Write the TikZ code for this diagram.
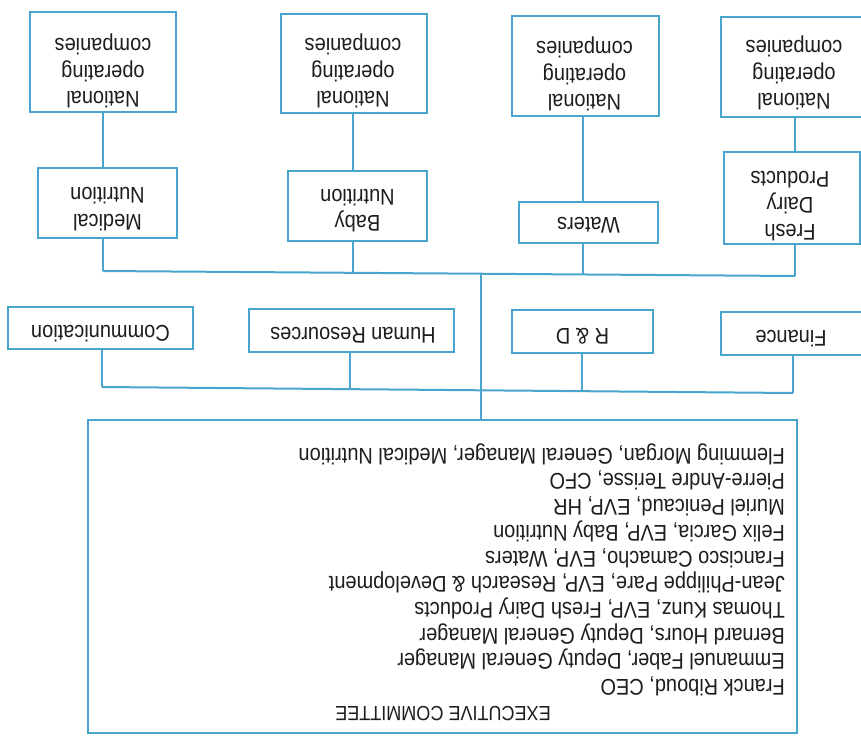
\documentclass[tikz,border=0pt]{standalone}
\usepackage{fontspec}
\setmainfont{Liberation Sans}[FakeStretch=0.88]
\usepackage{graphicx}
\definecolor{lineblue}{RGB}{72,166,206}
\definecolor{ink}{RGB}{30,30,30}
\newcommand{\flipc}[1]{\rotatebox{180}{\begin{tabular}{@{}c@{}}#1\end{tabular}}}
\newcommand{\flipl}[1]{\rotatebox{180}{\begin{tabular}{@{}l@{}}#1\end{tabular}}}
\begin{document}
\begin{tikzpicture}[x=1pt,y=-1pt,
  orgbox/.style={draw=lineblue, line width=2pt, inner sep=0pt},
  wh/.style 2 args={minimum width=#1pt, minimum height=#2pt},
  lbl/.style={inner sep=0pt, text=ink, font=\fontsize{22.7}{26.5}\selectfont},
  txt/.style={inner sep=0pt, text=ink, font=\fontsize{22.7}{25.7}\selectfont},
  conn/.style={draw=lineblue, line width=2pt}]
\useasboundingbox[fill=white] (0,0) rectangle (861,737);

% national operating companies
\node[orgbox, wh={146}{100}] (noc1) at (103,62) {};
\node[orgbox, wh={146}{99}] (noc2) at (354,63.5) {};
\node[orgbox, wh={147}{100}] (noc3) at (585.5,66) {};
\node[orgbox, wh={149}{100}] (noc4) at (795.5,67) {};
\node[lbl] (noc1t) at (103,70.5) {\flipc{National\\operating\\companies}};
\node[lbl] (noc2t) at (353,70.5) {\flipc{National\\operating\\companies}};
\node[lbl] (noc3t) at (584.5,73.5) {\flipc{National\\operating\\companies}};
\node[lbl] (noc4t) at (794,72.5) {\flipc{National\\operating\\companies}};

% divisions
\node[orgbox, wh={139}{70}] (med) at (107.5,203) {};
\node[orgbox, wh={139}{70}] (baby) at (357.5,206) {};
\node[orgbox, wh={139}{41}] (waters) at (588.5,222.5) {};
\node[orgbox, wh={136}{92}] (fresh) at (792,198) {};
\node[lbl] (medt) at (107.5,206.5) {\flipc{Medical\\Nutrition}};
\node[lbl] (babyt) at (357.5,208) {\flipc{Baby\\Nutrition}};
\node[lbl] (waterst) at (588.5,223) {\flipc{Waters}};
\node[lbl] (fresht) at (790,203) {\flipc{Fresh\\Dairy\\Products}};

% functions
\node[orgbox, wh={185}{42}] (com) at (100.5,328) {};
\node[orgbox, wh={205}{43}] (hr) at (351.5,330.5) {};
\node[orgbox, wh={141}{43}] (rd) at (582.5,331.5) {};
\node[orgbox, wh={145}{43}] (fin) at (793.5,333.5) {};
\node[lbl] (comt) at (100.5,331) {\flipc{Communication}};
\node[lbl] (hrt) at (353,333) {\flipc{Human Resources}};
\node[lbl] (rdt) at (582.5,334) {\flipc{R \& D}};
\node[lbl] (fint) at (791,336) {\flipc{Finance}};

% executive committee
\node[orgbox, wh={709}{313}] (exec) at (442.5,576.5) {};
\node[txt, font=\fontsize{20.5}{24}\selectfont] (head) at (443,714) {\rotatebox{180}{EXECUTIVE COMMITTEE}};
\node[txt, anchor=east] (members) at (785,569) {\flipl{%
Franck Riboud, CEO\\
Emmanuel Faber, Deputy General Manager\\
Bernard Hours, Deputy General Manager\\
Thomas Kunz, EVP, Fresh Dairy Products\\
Jean-Philippe Pare, EVP, Research \& Development\\
Francisco Camacho, EVP, Waters\\
Felix Garcia, EVP, Baby Nutrition\\
Muriel Penicaud, EVP, HR\\
Pierre-Andre Terisse, CFO\\
Flemming Morgan, General Manager, Medical Nutrition}};

% junction coordinates
\coordinate (j1a) at (103,271);
\coordinate (j1b) at (353,273);
\coordinate (j1m) at (481,274);
\coordinate (j1c) at (583,274.5);
\coordinate (j1d) at (795,276);
\coordinate (j2a) at (102,387);
\coordinate (j2b) at (350,389);
\coordinate (j2m) at (481,390);
\coordinate (j2c) at (582,391);
\coordinate (j2d) at (793,393);

% connectors
\draw[conn] (noc1.south -| j1a) -- (med.north -| j1a);
\draw[conn] (noc2.south -| j1b) -- (baby.north -| j1b);
\draw[conn] (noc3.south -| j1c) -- (waters.north -| j1c);
\draw[conn] (noc4.south -| j1d) -- (fresh.north -| j1d);

\draw[conn] (med.south -| j1a) -- (j1a);
\draw[conn] (baby.south -| j1b) -- (j1b);
\draw[conn] (waters.south -| j1c) -- (j1c);
\draw[conn] (fresh.south -| j1d) -- (j1d);
\draw[conn] (j1a) -- (j1d);

\draw[conn] (com.south -| j2a) -- (j2a);
\draw[conn] (hr.south -| j2b) -- (j2b);
\draw[conn] (rd.south -| j2c) -- (j2c);
\draw[conn] (fin.south -| j2d) -- (j2d);
\draw[conn] (j2a) -- (j2d);

\draw[conn] (exec.north -| j1m) -- (j1m);
\end{tikzpicture}
\end{document}
